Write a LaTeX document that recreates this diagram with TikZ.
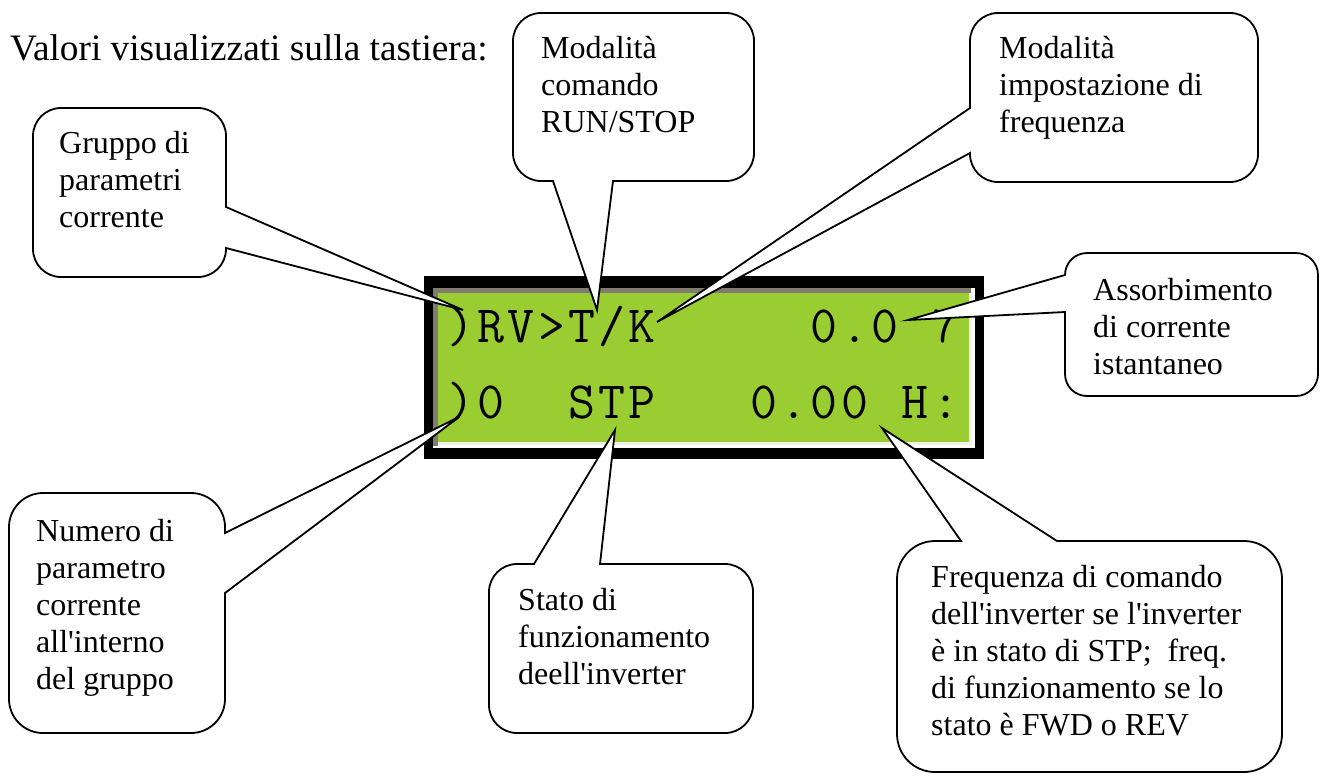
\documentclass[tikz,border=0pt]{standalone}
\usepackage{fontspec}
\setmainfont{Liberation Serif}
\definecolor{lcdgreen}{HTML}{9ACD32}
\definecolor{lcdgray}{HTML}{807C72}
\definecolor{lcdcream}{HTML}{F4EFE8}
\newcommand{\ap}{\textquotesingle}
\newcommand{\ctext}[1]{\parbox[t]{420pt}{\raggedright #1}}
% LCD cells: each character in a fixed 30.3pt cell
\def\lcdloop#1{\ifx#1\relax\else\makebox[30.3pt][l]{#1}\expandafter\lcdloop\fi}
\newcommand{\lcdrow}[1]{\lcdloop#1\relax}
\tikzset{
  co/.style={draw=black, line width=1.8pt, fill=white, line join=miter},
  ctxt/.style={anchor=base west, inner sep=0pt, font=\fontsize{32}{37}\selectfont},
  lcd/.style={anchor=base west, inner sep=0pt, font=\ttfamily\fontsize{52.4}{56}\selectfont}
}
\begin{document}
\begin{tikzpicture}[x=1pt, y=-1pt]
\useasboundingbox (0,0) rectangle (1321,777);

% title
\node[anchor=base west, inner sep=0pt, font=\fontsize{37.3}{43}\selectfont] (title) at (10,60) {Valori visualizzati sulla tastiera:};

% LCD display
\fill[black] (424,276) rectangle (984,459);
\fill[white] (433,288) rectangle (975,448);
\fill[lcdgray] (433,288) rectangle (971,293);
\fill[lcdgray] (433,288) rectangle (438,446);
\fill[lcdcream] (969,293) rectangle (972,445);
\fill[lcdcream] (438,442) rectangle (972,445);
\fill[lcdgreen] (438,293) rectangle (969,442);

% LCD text (cell k starts at 447 + 30.3 k)
\node[lcd] (r1a) at (447,342) {\lcdrow{)RV>T/K}};
\node[lcd] (r1b) at (810.6,342) {\lcdrow{0.0}};
\node[lcd] (r1c) at (931.8,342) {\lcdrow{7}};
\node[lcd] (r2a) at (447,418) {\lcdrow{)0}};
\node[lcd] (r2b) at (568.2,418) {\lcdrow{STP}};
\node[lcd] (r2c) at (750,418) {\lcdrow{0.00}};
\node[lcd] (r2d) at (901.5,418) {\lcdrow{H:}};

% pointer tips
\coordinate (tGruppo) at (463,310);
\coordinate (tComando) at (597,310);
\coordinate (tImp) at (657,322);
\coordinate (tAss) at (908,320);
\coordinate (tNum) at (459,417);
\coordinate (tStato) at (615,430);
\coordinate (tFreq) at (882,428);

% callout: Gruppo (wedge right)
\draw[co] (61,108) -- (198,108) arc[start angle=270,end angle=360,radius=28]
  -- (226,207) -- (tGruppo) -- (226,248) -- (226,249)
  arc[start angle=0,end angle=90,radius=28] -- (61,277)
  arc[start angle=90,end angle=180,radius=28] -- (33,136)
  arc[start angle=180,end angle=270,radius=28] -- cycle;
\node[ctxt] (gruppo) at (59,153) {\ctext{Gruppo di\\parametri\\corrente}};

% callout: Comando (wedge bottom)
\draw[co] (541,13) -- (726,13) arc[start angle=270,end angle=360,radius=28]
  -- (754,153) arc[start angle=0,end angle=90,radius=28]
  -- (613,181) -- (tComando) -- (553,181) -- (541,181)
  arc[start angle=90,end angle=180,radius=28] -- (513,41)
  arc[start angle=180,end angle=270,radius=28] -- cycle;
\node[ctxt] (comando) at (541,58) {\ctext{Modalità\\comando\\RUN/STOP}};

% callout: Impostazione frequenza (wedge left)
\draw[co] (998,13) -- (1230,13) arc[start angle=270,end angle=360,radius=28]
  -- (1258,154) arc[start angle=0,end angle=90,radius=28]
  -- (998,182) arc[start angle=90,end angle=180,radius=28]
  -- (970,153) -- (tImp) -- (970,108) -- (970,41)
  arc[start angle=180,end angle=270,radius=28] -- cycle;
\node[ctxt] (impfreq) at (999,58) {\ctext{Modalità\\impostazione di\\frequenza}};

% callout: Assorbimento (wedge left)
\draw[co] (1087,253) -- (1296,253) arc[start angle=270,end angle=360,radius=22]
  -- (1318,374) arc[start angle=0,end angle=90,radius=22]
  -- (1087,396) arc[start angle=90,end angle=180,radius=22]
  -- (1065,312) -- (tAss) -- (1065,275)
  arc[start angle=180,end angle=270,radius=22] -- cycle;
\node[ctxt] (assorb) at (1093,300) {\ctext{Assorbimento\\di corrente\\istantaneo}};

% callout: Numero (wedge right)
\draw[co] (43,493) -- (191,493) arc[start angle=270,end angle=360,radius=34]
  -- (225,533) -- (tNum) -- (225,593) -- (225,699)
  arc[start angle=0,end angle=90,radius=34] -- (43,733)
  arc[start angle=90,end angle=180,radius=34] -- (9,527)
  arc[start angle=180,end angle=270,radius=34] -- cycle;
\node[ctxt] (numero) at (36,541) {\ctext{Numero di\\parametro\\corrente\\all\ap interno\\del gruppo}};

% callout: Stato (wedge top)
\draw[co] (517,564) -- (534,564) -- (tStato) -- (600,564) -- (725,564)
  arc[start angle=270,end angle=360,radius=28] -- (753,705)
  arc[start angle=0,end angle=90,radius=28] -- (517,733)
  arc[start angle=90,end angle=180,radius=28] -- (489,592)
  arc[start angle=180,end angle=270,radius=28] -- cycle;
\node[ctxt] (stato) at (518,610) {\ctext{Stato di\\funzionamento\\deell\ap inverter}};

% callout: Frequenza (wedge top)
\draw[co] (935,541) -- (961,541) -- (tFreq) -- (1057,541) -- (1244,541)
  arc[start angle=270,end angle=360,radius=38] -- (1282,734)
  arc[start angle=0,end angle=90,radius=38] -- (935,772)
  arc[start angle=90,end angle=180,radius=38] -- (897,579)
  arc[start angle=180,end angle=270,radius=38] -- cycle;
\node[ctxt] (freq) at (931,587) {\ctext{Frequenza di comando\\dell\ap inverter se l\ap inverter\\è in stato di STP;\ \ freq.\\di funzionamento se lo\\stato è FWD o REV}};

\end{tikzpicture}
\end{document}
